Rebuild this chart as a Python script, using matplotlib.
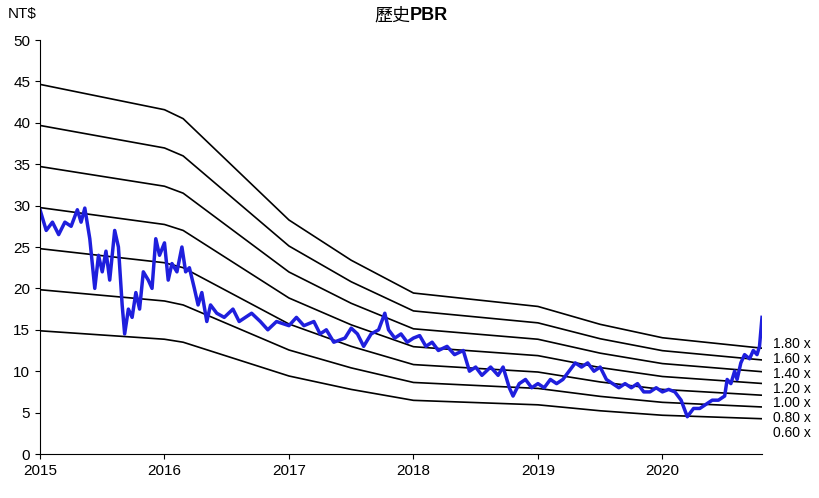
import matplotlib
matplotlib.use("Agg")
import matplotlib.pyplot as plt
import numpy as np

bv_t = [2015.0, 2016.0, 2016.15, 2017.0, 2017.5, 2018.0, 2019.0, 2019.5, 2020.0, 2020.8]
bv_v = [24.8, 23.1, 22.5, 15.7, 13.0, 10.8, 9.9, 8.7, 7.8, 7.1]
multiples = [0.6, 0.8, 1.0, 1.2, 1.4, 1.6, 1.8]
mult_labels = ["0.60 x", "0.80 x", "1.00 x", "1.20 x", "1.40 x", "1.60 x", "1.80 x"]

price_t = [2015.0,2015.05,2015.1,2015.15,2015.2,2015.25,2015.3,2015.33,2015.36,2015.4,2015.44,2015.47,2015.5,2015.53,2015.56,2015.6,2015.63,2015.66,2015.68,2015.71,2015.74,2015.77,2015.8,2015.83,2015.87,2015.9,2015.93,2015.96,
 2016.0,2016.03,2016.06,2016.1,2016.14,2016.17,2016.2,2016.24,2016.27,2016.3,2016.34,2016.37,2016.42,2016.48,2016.55,2016.6,2016.65,2016.7,2016.77,2016.83,2016.9,
 2017.0,2017.06,2017.12,2017.2,2017.25,2017.3,2017.36,2017.45,2017.5,2017.55,2017.6,2017.66,2017.72,2017.77,2017.8,2017.85,2017.9,2017.95,
 2018.0,2018.05,2018.1,2018.15,2018.2,2018.27,2018.33,2018.4,2018.45,2018.5,2018.55,2018.62,2018.68,2018.72,2018.77,2018.8,2018.85,2018.9,2018.95,
 2019.0,2019.05,2019.1,2019.15,2019.2,2019.25,2019.3,2019.35,2019.4,2019.45,2019.5,2019.55,2019.6,2019.65,2019.7,2019.75,2019.8,2019.85,2019.9,2019.95,
 2020.0,2020.05,2020.1,2020.15,2020.2,2020.25,2020.3,2020.35,2020.4,2020.45,2020.5,2020.52,2020.55,2020.58,2020.6,2020.63,2020.66,2020.7,2020.73,2020.76,2020.78,2020.8]
price_v = [29.5,27,28,26.5,28,27.5,29.5,28,29.7,26,20,24,22,24.5,21,27,25,18,14.5,17.5,16.5,19.5,17.5,22,21,20,26,24,
 25.5,21,23,22,25,22,22.5,20,18,19.5,16,18,17,16.5,17.5,16,16.5,17,16,15,16,
 15.5,16.5,15.5,16,14.5,15,13.5,14,15.2,14.5,13,14.5,15,17,15,14,14.5,13.5,
 14,14.3,13,13.5,12.5,13,12,12.5,10,10.5,9.5,10.5,9.5,10.5,8,7,8.5,9,8,
 8.5,8,9,8.5,9,10,11,10.5,11,10,10.5,9,8.5,8,8.5,8,8.5,7.5,7.5,8,
 7.5,7.8,7.5,6.5,4.5,5.5,5.5,6,6.5,6.5,7,9,8.5,10,9,11,12,11.5,12.5,12,13,16.5]

fig = plt.figure(figsize=(8.2, 4.98), dpi=100)
ax = fig.add_axes([40/820, 44/498, 722/820, 414/498])
bt = np.array(bv_t); bv = np.array(bv_v)
v0 = bv[-1] * multiples[0]
for m, lab in zip(multiples, mult_labels):
    ax.plot(bt, bv * m, color="black", lw=1.2)
    v = bv[-1] * m
    ax.text(2020.89, 2.5 + 1.27 * (v - v0), lab, fontsize=10, ha="left", va="center",
            fontfamily="Liberation Sans", clip_on=False)
ax.plot(price_t, price_v, color="#1f1fdd", lw=2.5)
ax.set_xlim(2015, 2020.8)
ax.set_ylim(0, 50)
ax.set_yticks(range(0, 51, 5))
ax.set_xticks(range(2015, 2021))
ax.tick_params(labelsize=11)
for l in ax.get_xticklabels() + ax.get_yticklabels():
    l.set_fontfamily("Liberation Sans")
ax.spines["top"].set_visible(False)
ax.spines["right"].set_visible(False)
fig.text(8/820, 1 - 14/498, "NT$", fontsize=11, fontfamily="Liberation Sans", va="center")
fig.text(410/820, 1 - 16/498, "歷史", fontsize=13,
         fontfamily=["Noto Sans CJK TC", "Noto Sans CJK JP"], ha="right", va="center")
fig.text(410/820, 1 - 16/498, "PBR", fontsize=13, fontweight="bold",
         fontfamily="Liberation Sans", ha="left", va="center")
fig.savefig("out.png", dpi=100)
